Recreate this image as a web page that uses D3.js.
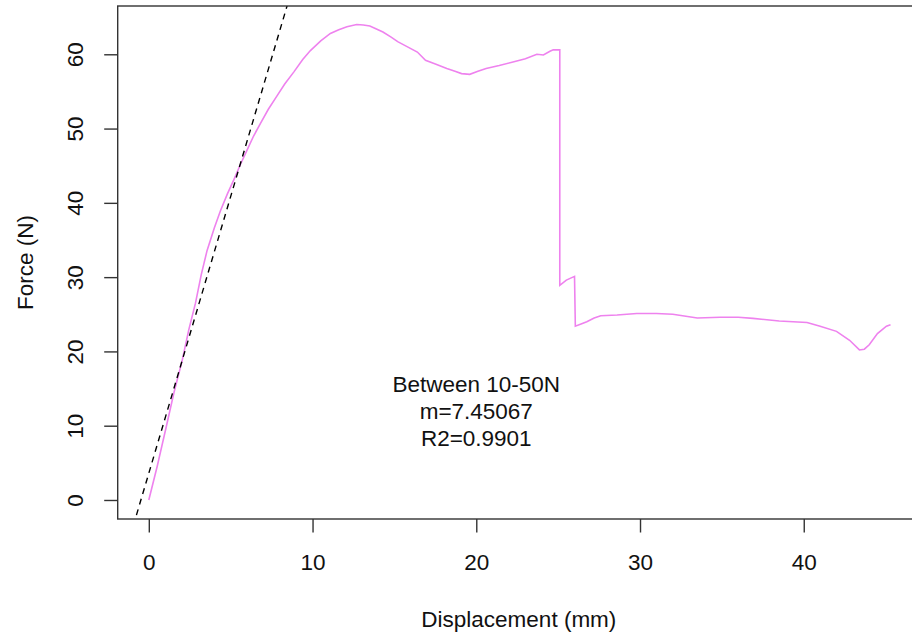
<!DOCTYPE html>
<html lang="en">
<head>
  <meta charset="UTF-8">
  <title>Force vs Displacement</title>
  <script src="https://d3js.org/d3.v7.min.js"></script>
  <style>
    body { margin: 0; background: #fff; }
    svg { display: block; font-family: "Liberation Sans", Arial, sans-serif; }
  </style>
</head>
<body>
<svg id="chart" width="912" height="637"></svg>
<script>
  const displacement = [0, 0.51, 1.08, 1.53, 2.04, 2.44, 2.85, 3.2, 3.56, 4.0, 4.37, 4.8, 5.19, 5.6, 6.0, 6.4,
    6.82, 7.3, 7.83, 8.3, 8.85, 9.4, 9.87, 10.5, 11.09, 11.6, 12.1, 12.7, 13.1, 13.5, 13.9, 14.3, 14.8,
    15.2, 15.8, 16.4, 16.9, 17.5, 18.2, 18.7, 19.1, 19.6, 20.1, 20.6, 21.4, 22.3, 23.0, 23.7, 24.1, 24.5,
    24.7, 25.1, 25.1, 25.5, 26.0, 26.05, 26.4, 26.75, 27.2, 27.6, 28.6, 29.8, 31.0, 32.0, 33.5, 34.9,
    36.0, 36.9, 38.5, 40.2, 41.0, 42.0, 42.8, 43.4, 43.7, 44.0, 44.5, 45.05, 45.3]
  const force = [0, 4.5, 10.0, 14.4, 18.8, 22.9, 26.5, 30.3, 33.6, 36.6, 38.9, 41.2, 43.1, 45.2, 47.1, 49.0,
    50.7, 52.6, 54.4, 56.0, 57.6, 59.3, 60.5, 61.8, 62.8, 63.3, 63.7, 64.0, 63.95, 63.8, 63.4, 63.0, 62.3,
    61.7, 61.0, 60.3, 59.2, 58.7, 58.1, 57.7, 57.4, 57.3, 57.7, 58.1, 58.5, 59.0, 59.4, 60.0, 59.9, 60.4,
    60.6, 60.6, 28.9, 29.6, 30.1, 23.4, 23.7, 24.0, 24.5, 24.8, 24.9, 25.1, 25.1, 25.0, 24.5, 24.6,
    24.6, 24.45, 24.1, 23.9, 23.4, 22.7, 21.5, 20.2, 20.3, 20.9, 22.4, 23.4, 23.6]

  // linear fit between 10-50N
  const fitSlope = 7.45067
  const fitIntercept = 3.6
  const fitLabels = ["Between 10-50N", "m=7.45067", "R2=0.9901"]
  const labelPos = [20, 12]

  const xTicks = [0, 10, 20, 30, 40]
  const yTicks = [0, 10, 20, 30, 40, 50, 60]
  const xDomain = [-1.9, 47.1]
  const yDomain = [-2.56, 66.5]

  const box = {left: 117.7, right: 920, top: 6, bottom: 519}
  const fs = 22.5

  const svg = d3.select("#chart")

  const x = d3.scaleLinear().domain(xDomain).range([box.left, box.right])
  const y = d3.scaleLinear().domain(yDomain).range([box.bottom, box.top])

  svg.append("defs").append("clipPath").attr("id", "plotclip")
    .append("rect")
    .attr("x", box.left).attr("y", box.top)
    .attr("width", box.right - box.left).attr("height", box.bottom - box.top)

  // data curve
  const pts = displacement.map((d, i) => [d, force[i]])
  svg.append("path")
    .datum(pts)
    .attr("fill", "none")
    .attr("stroke", "#ee82ee")
    .attr("stroke-width", 1.6)
    .attr("stroke-linejoin", "miter")
    .attr("d", d3.line().x(d => x(d[0])).y(d => y(d[1])))

  // fitted line (abline), clipped to the plot region
  svg.append("line")
    .attr("clip-path", "url(#plotclip)")
    .attr("x1", x(xDomain[0])).attr("y1", y(fitIntercept + fitSlope * xDomain[0]))
    .attr("x2", x(xDomain[1])).attr("y2", y(fitIntercept + fitSlope * xDomain[1]))
    .attr("stroke", "#000")
    .attr("stroke-width", 1.4)
    .attr("stroke-dasharray", "6,5")

  // box
  svg.append("rect")
    .attr("x", box.left).attr("y", box.top)
    .attr("width", box.right - box.left).attr("height", box.bottom - box.top)
    .attr("fill", "none").attr("stroke", "#333").attr("stroke-width", 1.4)

  // x axis
  const xAxis = d3.axisBottom(x).tickValues(xTicks).tickSize(13.5).tickSizeOuter(0).tickPadding(0)
  const gx = svg.append("g").attr("transform", `translate(0,${box.bottom})`).call(xAxis)
  gx.select(".domain").remove()
  gx.selectAll(".tick line").attr("stroke", "#333").attr("stroke-width", 1.4)
  gx.selectAll(".tick text")
    .attr("font-size", fs).attr("fill", "#111")
    .attr("font-family", "Liberation Sans, Arial, sans-serif")
    .attr("dy", null).attr("y", 51)

  // y axis
  const yAxis = d3.axisLeft(y).tickValues(yTicks).tickSize(13.5).tickSizeOuter(0).tickPadding(0)
  const gy = svg.append("g").attr("transform", `translate(${box.left},0)`).call(yAxis)
  gy.select(".domain").remove()
  gy.selectAll(".tick line").attr("stroke", "#333").attr("stroke-width", 1.4)
  gy.selectAll(".tick text")
    .attr("font-size", fs).attr("fill", "#111")
    .attr("font-family", "Liberation Sans, Arial, sans-serif")
    .attr("x", null).attr("dy", null)
    .attr("text-anchor", "middle")
    .attr("transform", "translate(-34.5,0) rotate(-90)")

  // axis titles
  svg.append("text")
    .attr("x", (box.left + box.right) / 2).attr("y", 627)
    .attr("text-anchor", "middle").attr("font-size", fs).attr("fill", "#111")
    .text("Displacement (mm)")

  svg.append("text")
    .attr("transform", `translate(33,${(box.top + box.bottom) / 2}) rotate(-90)`)
    .attr("text-anchor", "middle").attr("font-size", fs).attr("fill", "#111")
    .text("Force (N)")

  // fit annotation
  svg.append("g").selectAll("text")
    .data(fitLabels).enter()
    .append("text")
    .attr("x", x(labelPos[0]))
    .attr("y", (d, i) => y(labelPos[1]) + 8 + (i - 1) * 27)
    .attr("text-anchor", "middle").attr("font-size", fs).attr("fill", "#111")
    .text(d => d)
</script>
</body>
</html>
